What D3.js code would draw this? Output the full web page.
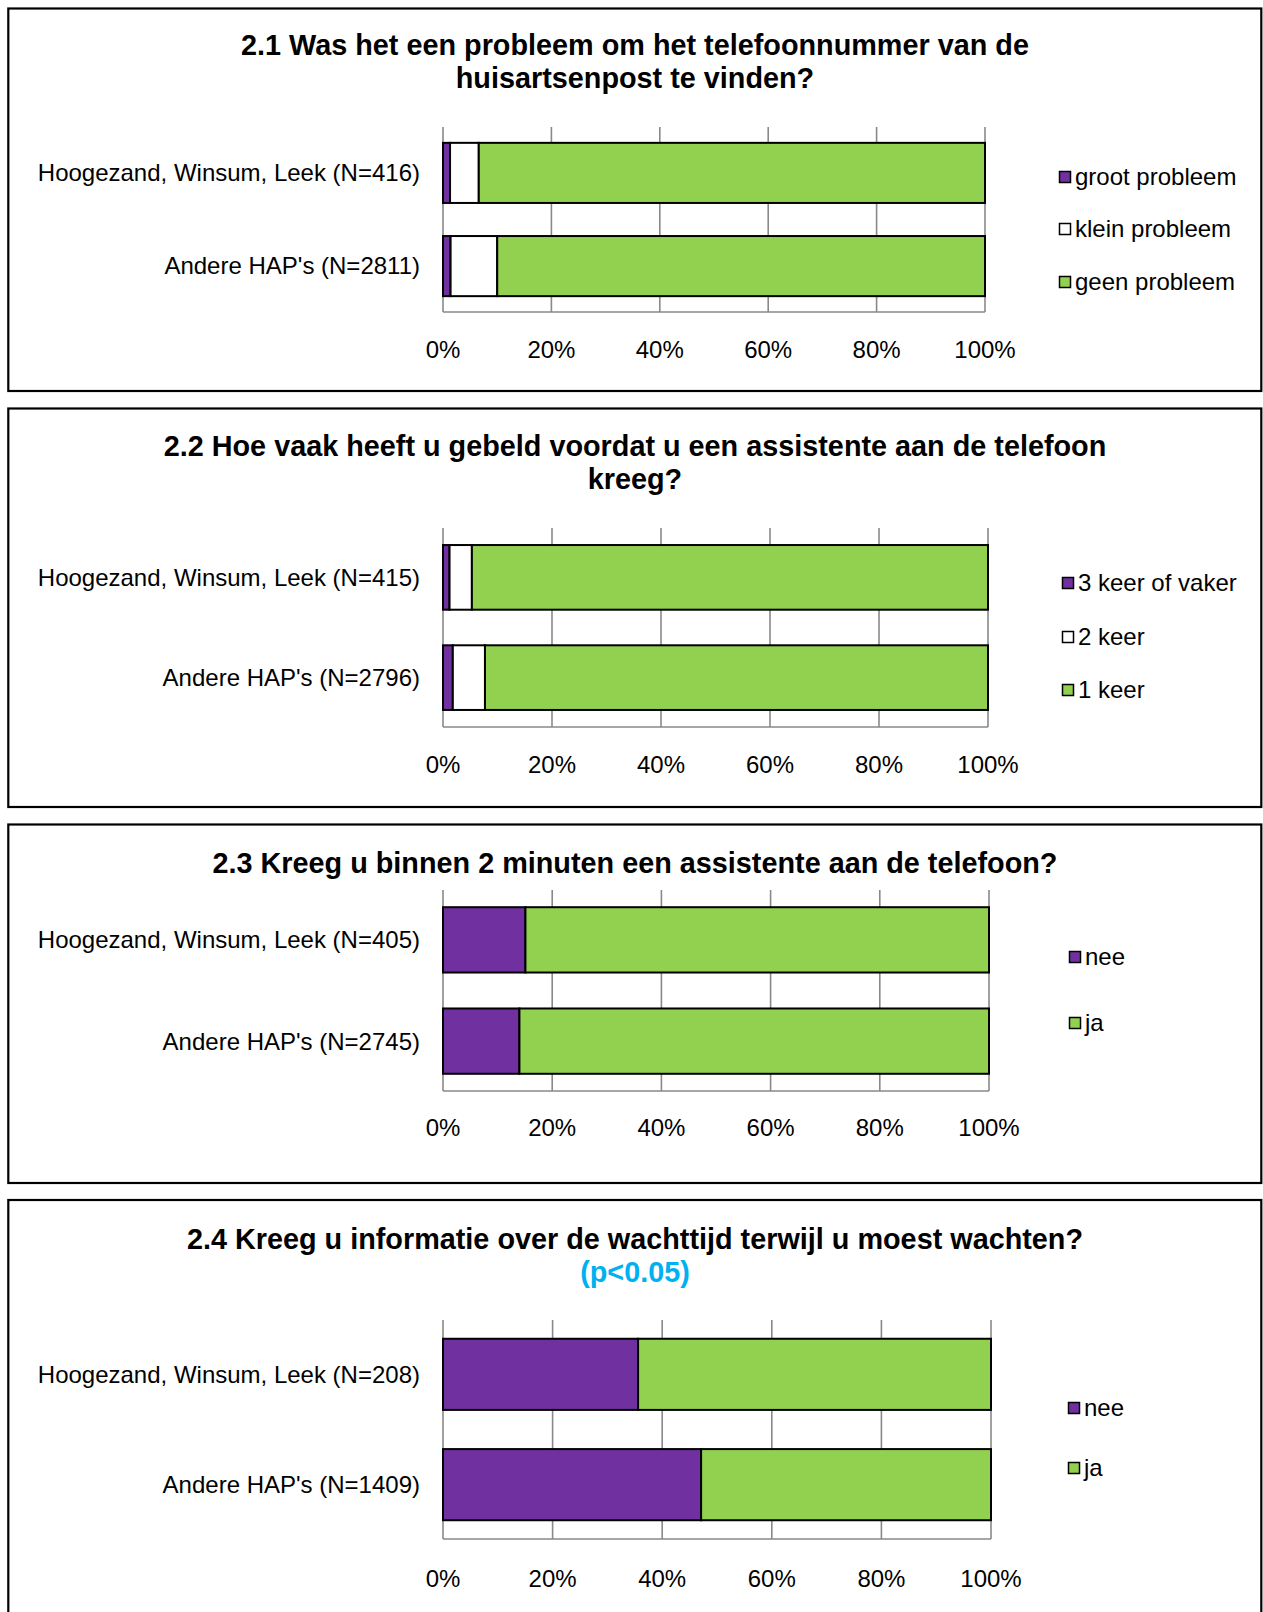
<!DOCTYPE html>
<head>
	<meta charset="utf-8">
	<style>
		body { margin: 0; background: white; }
		svg { font-family: "Liberation Sans", Arial, sans-serif; }
		svg .grid { stroke: #898989; stroke-width: 1.6; }
		svg .bar { stroke: black; stroke-width: 2; }
		svg .title { font-weight: bold; font-size: 28.8px; }
		svg .cat, svg .tick, svg .leg { font-size: 24px; fill: black; }
	</style>
</head>
<body>
	<svg width="1263" height="1612"></svg>
	<script src="https://d3js.org/d3.v7.min.js"></script>
	<script>
		// data
		var titles1 = ["2.1 Was het een probleem om het telefoonnummer van de", "huisartsenpost te vinden?"];
		var titles2 = ["2.2 Hoe vaak heeft u gebeld voordat u een assistente aan de telefoon", "kreeg?"];
		var titles3 = ["2.3 Kreeg u binnen 2 minuten een assistente aan de telefoon?"];
		var titles4 = ["2.4 Kreeg u informatie over de wachttijd terwijl u moest wachten?", "(p<0.05)"];

		var groups1 = ["Hoogezand, Winsum, Leek (N=416)", "Andere HAP's (N=2811)"];
		var groups2 = ["Hoogezand, Winsum, Leek (N=415)", "Andere HAP's (N=2796)"];
		var groups3 = ["Hoogezand, Winsum, Leek (N=405)", "Andere HAP's (N=2745)"];
		var groups4 = ["Hoogezand, Winsum, Leek (N=208)", "Andere HAP's (N=1409)"];

		var series1 = ["groot probleem", "klein probleem", "geen probleem"];
		var series2 = ["3 keer of vaker", "2 keer", "1 keer"];
		var series3 = ["nee", "ja"];
		var series4 = ["nee", "ja"];

		var values1 = [[1.3, 5.3, 93.4], [1.4, 8.6, 90.0]];
		var values2 = [[1.2, 4.1, 94.7], [1.8, 5.9, 92.3]];
		var values3 = [[15.1, 84.9], [14.0, 86.0]];
		var values4 = [[35.6, 64.4], [47.1, 52.9]];

		var ticks = [0, 20, 40, 60, 80, 100];

		var purple = "#7030A0", green = "#92D050", white = "#FFFFFF";

		// layout of each panel (pixels)
		var panels = [
			{ titles: titles1, groups: groups1, series: series1, values: values1, colors: [purple, white, green],
			  box: [8.5, 391], titleY: [45, 78], x0: 443, x1: 985, top: 127, bottom: 312, tickY: 350, legX: 1059, legY: [177, 229, 282] },
			{ titles: titles2, groups: groups2, series: series2, values: values2, colors: [purple, white, green],
			  box: [408.5, 807], titleY: [446, 479], x0: 443, x1: 988, top: 528, bottom: 727, tickY: 765, legX: 1062, legY: [583, 637, 690] },
			{ titles: titles3, groups: groups3, series: series3, values: values3, colors: [purple, green],
			  box: [824.5, 1183], titleY: [863], x0: 443, x1: 989, top: 890, bottom: 1091, tickY: 1128, legX: 1069, legY: [957, 1023] },
			{ titles: titles4, groups: groups4, series: series4, values: values4, colors: [purple, green],
			  box: [1200, 1630], titleY: [1239, 1272], x0: 443, x1: 991, top: 1320, bottom: 1539, tickY: 1579, legX: 1068, legY: [1408, 1468] }
		];

		var svg = d3.select("svg");

		panels.forEach(function (p, pi) {
			var g = svg.append("g");

			g.append("rect")
				.attr("x", 8.3).attr("y", p.box[0])
				.attr("width", 1253).attr("height", p.box[1] - p.box[0])
				.attr("fill", "white").attr("stroke", "black").attr("stroke-width", 2.2);

			g.selectAll(".title")
				.data(p.titles)
				.enter().append("text")
				.attr("class", "title")
				.attr("x", 635)
				.attr("y", function (d, i) { return p.titleY[i]; })
				.attr("dy", ".35em")
				.attr("text-anchor", "middle")
				.attr("fill", function (d, i) { return (pi == 3 && i == 1) ? "#00B0F0" : "black"; })
				.text(String);

			var x = d3.scaleLinear().domain([0, 100]).range([p.x0, p.x1]);
			var y = d3.scaleBand()
				.domain(p.groups)
				.range([p.top, p.bottom])
				.paddingInner(0.355)
				.paddingOuter(0.17);

			// gridlines
			g.selectAll(".grid")
				.data(ticks)
				.enter().append("line")
				.attr("class", "grid")
				.attr("x1", x).attr("x2", x)
				.attr("y1", p.top).attr("y2", p.bottom);
			g.append("line")
				.attr("class", "grid")
				.attr("x1", p.x0).attr("x2", p.x1)
				.attr("y1", p.bottom).attr("y2", p.bottom);

			// stacked bars
			var stacked = p.values.map(function (row, gi) {
				var acc = 0;
				return row.map(function (v, si) {
					var s = { group: p.groups[gi], si: si, start: acc, end: acc + v };
					acc += v;
					return s;
				});
			});
			g.selectAll(".row")
				.data(stacked)
				.enter().append("g")
				.selectAll("rect")
				.data(function (d) { return d; })
				.enter().append("rect")
				.attr("class", "bar")
				.attr("x", function (d) { return x(d.start); })
				.attr("width", function (d) { return x(d.end) - x(d.start); })
				.attr("y", function (d) { return y(d.group); })
				.attr("height", y.bandwidth())
				.attr("fill", function (d) { return p.colors[d.si]; });

			// category labels
			g.selectAll(".cat")
				.data(p.groups)
				.enter().append("text")
				.attr("class", "cat")
				.attr("x", 420)
				.attr("y", function (d) { return y(d) + y.bandwidth() / 2; })
				.attr("dy", ".35em")
				.attr("text-anchor", "end")
				.text(String);

			// tick labels
			g.selectAll(".tick")
				.data(ticks)
				.enter().append("text")
				.attr("class", "tick")
				.attr("x", x)
				.attr("y", p.tickY)
				.attr("dy", ".35em")
				.attr("text-anchor", "middle")
				.text(function (d) { return d + "%"; });

			// legend
			var leg = g.selectAll(".legitem")
				.data(p.series)
				.enter().append("g")
				.attr("transform", function (d, i) { return "translate(" + p.legX + "," + p.legY[i] + ")"; });
			leg.append("rect")
				.attr("x", 0.5).attr("y", -5.5)
				.attr("width", 11).attr("height", 11)
				.attr("fill", function (d, i) { return p.colors[i]; })
				.attr("stroke", "black").attr("stroke-width", 1.5);
			leg.append("text")
				.attr("class", "leg")
				.attr("x", 16)
				.attr("dy", ".35em")
				.text(String);
		});
	</script>
</body>
